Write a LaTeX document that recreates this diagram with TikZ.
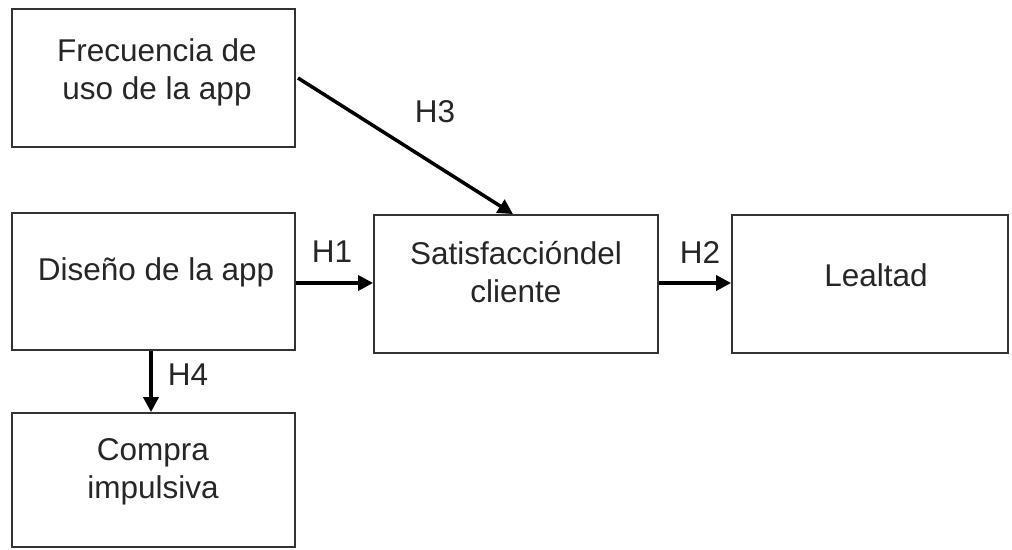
\documentclass[tikz,border=0pt]{standalone}
\usepackage{fontspec}
\setmainfont{Liberation Sans}
\usetikzlibrary{arrows.meta}
\begin{document}
\begin{tikzpicture}[x=1pt,y=-1pt,
  box/.style={draw=black!80, line width=1.8pt, rectangle, inner sep=0pt},
  txt/.style={align=center, inner sep=0pt, font=\fontsize{31.5}{38}\selectfont, text=black!85},
  hyp/.style={inner sep=0pt, font=\fontsize{31.5}{38}\selectfont, text=black!85},
  conn/.style={line width=3.5pt, -{Triangle[length=15pt,width=15pt]}, shorten >=0pt}]
\useasboundingbox (0,0) rectangle (1012,549);
% boxes
\node[box, minimum width=283pt, minimum height=138pt] (frec) at (153.5,78) {};
\node[box, minimum width=283pt, minimum height=137pt] (dis) at (153.5,281.5) {};
\node[box, minimum width=283pt, minimum height=134pt] (comp) at (153.5,480) {};
\node[box, minimum width=284pt, minimum height=138pt] (sat) at (516,284) {};
\node[box, minimum width=276pt, minimum height=138pt] (leal) at (870,284) {};
% texts
\node[txt] (tfrec) at (157,72) {Frecuencia de\\uso de la app};
\node[txt] (tdis) at (156,272) {Diseño de la app};
\node[txt] (tcomp) at (153,472) {Compra\\impulsiva};
\node[txt] (tsat) at (516,272) {Satisfaccióndel\\cliente};
\node[txt] (tleal) at (876,275) {Lealtad};
% connectors
\coordinate (h3s) at (298,78);
\draw[conn] (h3s) -- (sat.north -| 513,0);
\draw[conn] (dis.east |- 0,283) -- (sat.west |- 0,283);
\draw[conn] (sat.east |- 0,283) -- (leal.west |- 0,283);
\draw[conn] (dis.south -| 151,0) -- (comp.north -| 151,0);
% labels
\node[hyp] (h1) at (332,252) {H1};
\node[hyp] (h2) at (700,252) {H2};
\node[hyp] (h3) at (435,112) {H3};
\node[hyp] (h4) at (188,375) {H4};
\end{tikzpicture}
\end{document}
